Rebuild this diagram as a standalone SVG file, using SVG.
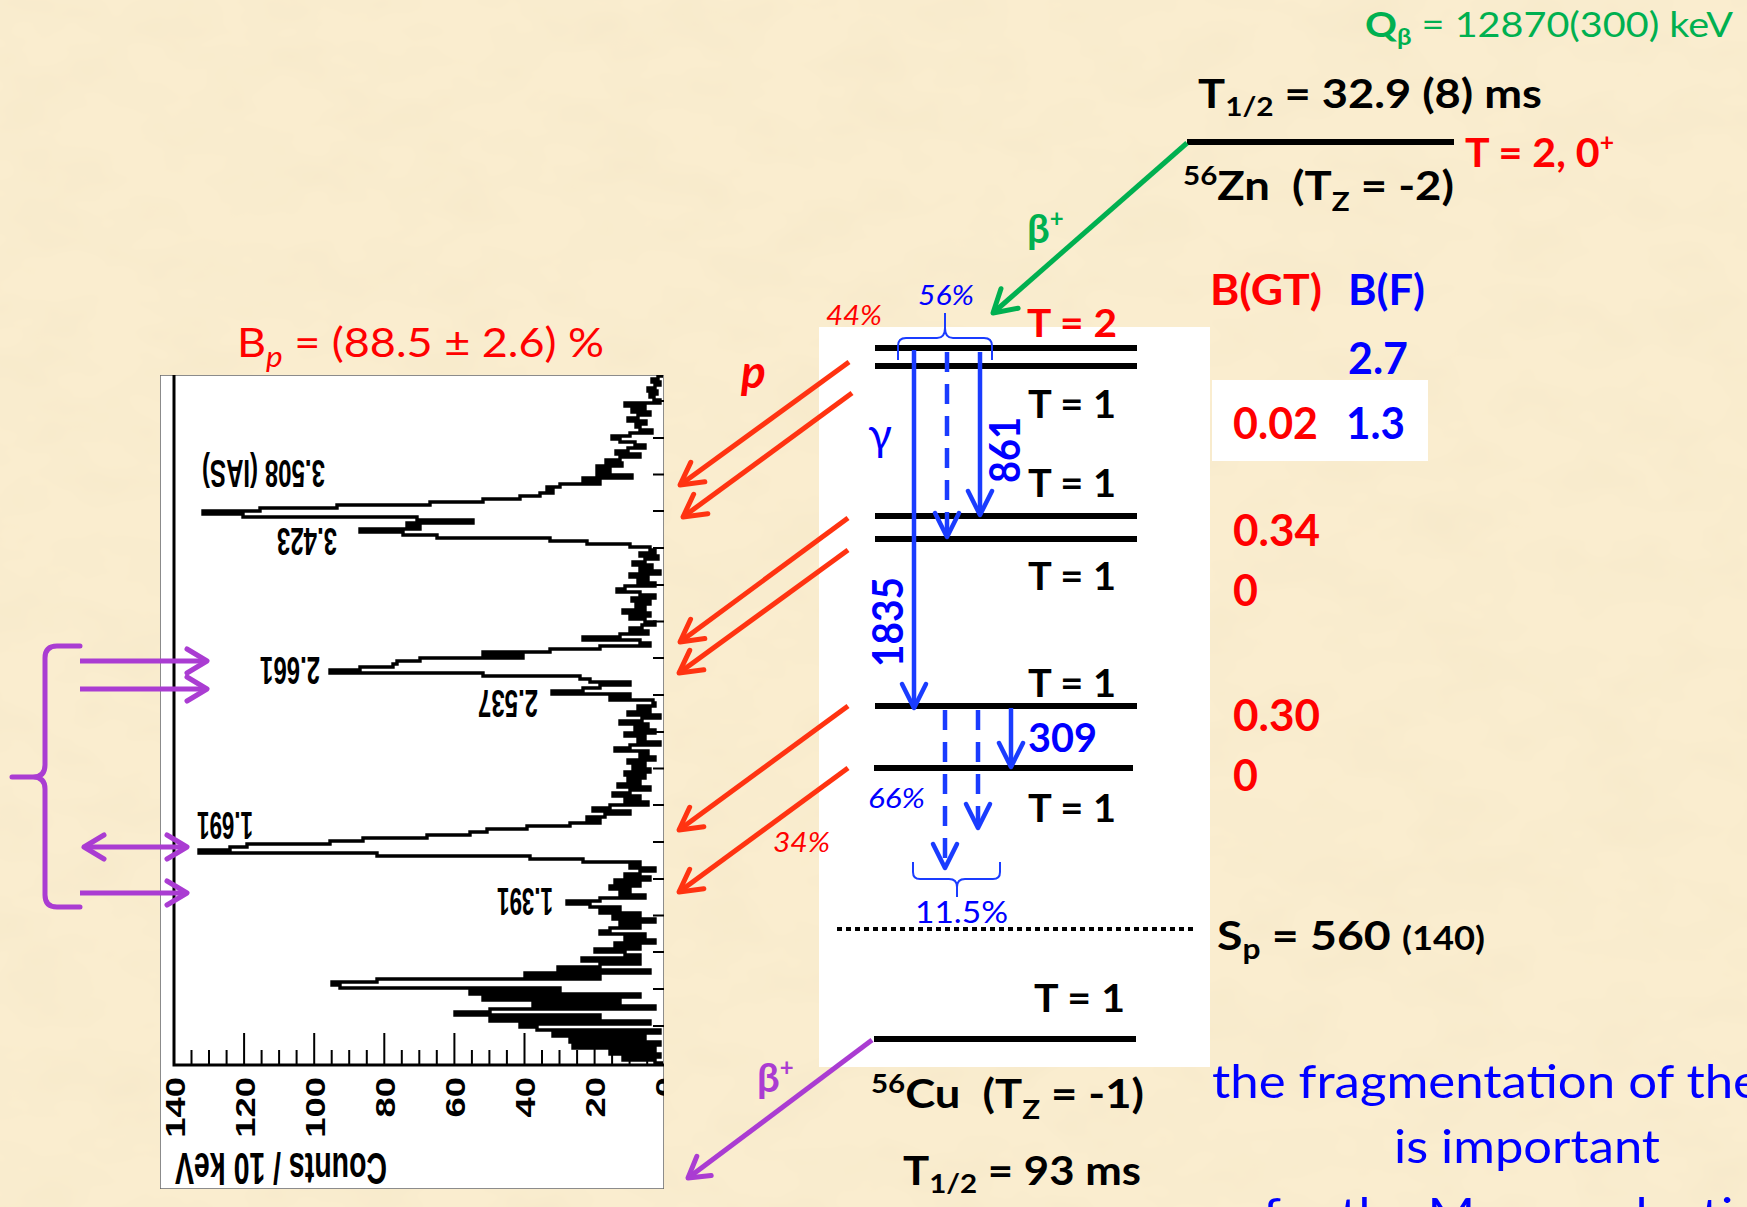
<svg xmlns="http://www.w3.org/2000/svg" width="1747" height="1207" viewBox="0 0 1747 1207">
<defs>
<style>
.b{font-family:Lato,"Open Sans","DejaVu Sans",sans-serif;font-weight:700}
.n{font-family:Lato,"Open Sans","DejaVu Sans",sans-serif;font-weight:400}
.it{font-style:italic}
.h{font-family:"Liberation Sans",Arial,sans-serif;font-weight:700}
.pre{white-space:pre}
.red{fill:#ff0000}.blue{fill:#0000ff}.blk{fill:#000}.grn{fill:#00b050}.pur{fill:#aa3cd2}
.lvl{stroke:#000;stroke-width:6;fill:none}
.ra{stroke:#ff3311;stroke-width:5;fill:none;marker-end:url(#mr)}
.ba{stroke:#1a3cff;stroke-width:4.5;fill:none;marker-end:url(#mb)}
.bd{stroke-dasharray:20 12}
.pa{stroke:#aa3cd2;stroke-width:5;fill:none;marker-end:url(#mp)}
</style>
<filter id="tx" x="0" y="0" width="100%" height="100%">
<feTurbulence type="fractalNoise" baseFrequency="0.012 0.02" numOctaves="3" seed="7"/>
<feColorMatrix type="matrix" values="0 0 0 0 0.85  0 0 0 0 0.74  0 0 0 0 0.52  0.45 0 0 0 -0.17"/>
</filter>
<marker id="mr" markerUnits="userSpaceOnUse" orient="auto" refX="0" refY="0" overflow="visible"><path d="M-22,-12 L0,0 L-22,12" fill="none" stroke="#ff3311" stroke-width="5" stroke-linecap="round" stroke-linejoin="round"/></marker>
<marker id="mb" markerUnits="userSpaceOnUse" orient="auto" refX="0" refY="0" overflow="visible"><path d="M-24,-12 L0,0 L-24,12" fill="none" stroke="#1a3cff" stroke-width="4.5" stroke-linecap="round" stroke-linejoin="round"/></marker>
<marker id="mg" markerUnits="userSpaceOnUse" orient="auto" refX="0" refY="0" overflow="visible"><path d="M-22,-13 L0,0 L-22,13" fill="none" stroke="#00b050" stroke-width="5" stroke-linecap="round" stroke-linejoin="round"/></marker>
<marker id="mp" markerUnits="userSpaceOnUse" orient="auto" refX="0" refY="0" overflow="visible"><path d="M-20,-12 L0,0 L-20,12" fill="none" stroke="#aa3cd2" stroke-width="5" stroke-linecap="round" stroke-linejoin="round"/></marker>
<marker id="mps" markerUnits="userSpaceOnUse" orient="auto-start-reverse" refX="0" refY="0" overflow="visible"><path d="M-20,-12 L0,0 L-20,12" fill="none" stroke="#aa3cd2" stroke-width="5" stroke-linecap="round" stroke-linejoin="round"/></marker>
<clipPath id="pc"><rect x="160" y="375" width="504" height="814"/></clipPath>
</defs>

<rect width="1747" height="1207" fill="#faedcf"/>
<rect width="1747" height="1207" filter="url(#tx)"/>

<!-- white panels -->
<rect id="scheme-box" x="819" y="327" width="391" height="740" fill="#fff"/>
<rect id="bgt-box" x="1212" y="380" width="216" height="81" fill="#fff"/>

<!-- spectrum plot -->
<g id="spectrum" clip-path="url(#pc)">
<rect x="160" y="375" width="504" height="814" fill="#fff" stroke="#666" stroke-width="1.5"/>
<path d="M174,375 V1065 H664" fill="none" stroke="#000" stroke-width="3"/>
<path d="M174,1065v-32M244.1,1065v-32M314.2,1065v-32M384.3,1065v-32M454.4,1065v-32M524.5,1065v-32M594.6,1065v-32M191.5,1065v-15M209,1065v-15M226.6,1065v-15M261.6,1065v-15M279.1,1065v-15M296.6,1065v-15M331.7,1065v-15M349.2,1065v-15M366.8,1065v-15M401.8,1065v-15M419.3,1065v-15M436.8,1065v-15M471.9,1065v-15M489.4,1065v-15M506.9,1065v-15M542,1065v-15M559.5,1065v-15M577.1,1065v-15M612.1,1065v-15M629.6,1065v-15M647.2,1065v-15" stroke="#000" stroke-width="2" fill="none"/>
<path d="M653,401h11M653,438h11M653,474.5h11M653,511h11M653,548h11M653,585h11M653,621.5h11M653,658h11M653,695h11M653,732h11M653,768.5h11M653,805h11M653,842h11M653,879h11M653,915.5h11M653,952h11M653,989h11M653,1026h11" stroke="#000" stroke-width="2"/>
<path d="M663,376H658v3H652v3H660v3H655v3H648v3H657v3H650v3H654v3H660v3H625v3H645v3H632v3H650v3H638v3H628v3H646v3H636v3H640v3H652v3H630v3H612v3H620v3H635v3H645v3H628v3H616v3H640v3H620v3H606v3H622v3H597v3H610v3H597v3H632v3H583v3H600v3H560v3H547v3H553v3H540v3H520v3H483v3H430v3H337v3H260v3H203v3H243v3H417v3H473v3H407v3H420v3H360v3H403v3H437v3H550v3H587v3H630v3H650v3H655v3H640v3H658v3H645v3H633v3H652v3H640v3H660v3H630v3H648v3H638v3H655v3H625v3H617v3H640v3H655v3H632v3H650v3H636v3H645v3H623v3H650v3H630v3H645v3H655v3H642v3H630v3H648v3H620v3H583v3H640v3H650v3H600v3H550v3H483v3H523v3H420v3H397v3H393v3H360v3H330v3H483v3H580v3H590v3H630v3H600v3H583v3H552v3H630v3H610v3H653v3H655v3H638v3H650v3H628v3H660v3H642v3H620v3H648v3H635v3H655v3H625v3H645v3H638v3H660v3H630v3H615v3H648v3H640v3H655v3H628v3H645v3H633v3H650v3H625v3H645v3H628v3H640v3H618v3H650v3H630v3H613v3H640v3H625v3H648v3H610v3H593v3H630v3H605v3H587v3H600v3H570v3H527v3H487v3H470v3H427v3H363v3H330v3H247v3H230v3H199v3H377v3H530v3H583v3H640v3H630v3H655v3H640v3H625v3H650v3H615v3H640v3H610v3H630v3H620v3H645v3H600v3H567v3H590v3H620v3H600v3H640v3H613v3H655v3H620v3H640v3H610v3H600v3H645v3H625v3H655v3H615v3H640v3H595v3H625v3H640v3H582v3H640v3H600v3H558v3H650v3H525v3H600v3H377v3H332v3H340v3H560v3H470v3H640v3H483v3H620v3H533v3H655v3H490v3H455v3H600v3H490v3H650v3H520v3H537v3H660v3H553v3H645v3H570v3H660v3H573v3H655v3H610v3H660v3H623v3H655v3H663" fill="none" stroke="#000" stroke-width="3.4"/>
<g class="h" font-size="28" text-anchor="end">
<text transform="translate(185,1077) rotate(-90) scale(1.3,1)">140</text>
<text transform="translate(255,1077) rotate(-90) scale(1.3,1)">120</text>
<text transform="translate(325,1077) rotate(-90) scale(1.3,1)">100</text>
<text transform="translate(395,1077) rotate(-90) scale(1.3,1)">80</text>
<text transform="translate(465,1077) rotate(-90) scale(1.3,1)">60</text>
<text transform="translate(535,1077) rotate(-90) scale(1.3,1)">40</text>
<text transform="translate(605,1077) rotate(-90) scale(1.3,1)">20</text>
<text transform="translate(675,1077) rotate(-90) scale(1.3,1)">0</text>
</g>
<text class="h" font-size="44" transform="translate(387,1153) rotate(180)" textLength="212" lengthAdjust="spacingAndGlyphs">Counts / 10 keV</text>
<g class="h" font-size="38">
<text transform="translate(325,460) rotate(180)" textLength="123" lengthAdjust="spacingAndGlyphs">3.508 (IAS)</text>
<text transform="translate(337,528) rotate(180)" textLength="60" lengthAdjust="spacingAndGlyphs">3.423</text>
<text transform="translate(320,657) rotate(180)" textLength="60" lengthAdjust="spacingAndGlyphs">2.661</text>
<text transform="translate(538,690) rotate(180)" textLength="60" lengthAdjust="spacingAndGlyphs">2.537</text>
<text transform="translate(253,812) rotate(180)" textLength="56" lengthAdjust="spacingAndGlyphs">1.691</text>
<text transform="translate(553,888) rotate(180)" textLength="56" lengthAdjust="spacingAndGlyphs">1.391</text>
</g>
</g>

<!-- top labels -->
<g id="q-value"><text class="n grn" x="1365" y="37" font-size="34" textLength="368" lengthAdjust="spacingAndGlyphs"><tspan font-weight="700">Q</tspan><tspan font-weight="700" font-size="22" dy="8">β</tspan><tspan dy="-8"> = 12870(300) keV</tspan></text></g>

<g id="zn56">
<text class="b blk" x="1198" y="108" font-size="41" textLength="344" lengthAdjust="spacingAndGlyphs">T<tspan font-size="27" dy="8">1/2</tspan><tspan dy="-8"> = 32.9 (8) ms</tspan></text>
<line class="lvl" x1="1187" y1="142" x2="1454" y2="142"/>
<text class="b red" x="1465" y="167" font-size="40" textLength="149" lengthAdjust="spacingAndGlyphs">T = 2, 0<tspan font-size="24" dy="-16">+</tspan></text>
<text class="b blk pre" x="1183" y="200" font-size="40" textLength="271" lengthAdjust="spacingAndGlyphs"><tspan font-size="26" dy="-15">56</tspan><tspan dy="15">Zn  (T</tspan><tspan font-size="26" dy="11">Z</tspan><tspan dy="-11"> = -2)</tspan></text>
</g>

<g id="bvalues">
<text class="b red" x="1210" y="305" font-size="42" textLength="112" lengthAdjust="spacingAndGlyphs">B(GT)</text>
<text class="b blue" x="1348" y="305" font-size="42" textLength="77" lengthAdjust="spacingAndGlyphs">B(F)</text>
<text class="b blue" x="1348" y="374" font-size="43" textLength="60" lengthAdjust="spacingAndGlyphs">2.7</text>
<text class="b red" x="1233" y="439" font-size="43" textLength="85" lengthAdjust="spacingAndGlyphs">0.02</text>
<text class="b blue" x="1346" y="439" font-size="43" textLength="59" lengthAdjust="spacingAndGlyphs">1.3</text>
<text class="b red" x="1233" y="546" font-size="43" textLength="87" lengthAdjust="spacingAndGlyphs">0.34</text>
<text class="b red" x="1233" y="606" font-size="43">0</text>
<text class="b red" x="1233" y="731" font-size="43" textLength="87" lengthAdjust="spacingAndGlyphs">0.30</text>
<text class="b red" x="1233" y="791" font-size="43">0</text>
</g>

<!-- level scheme of 56Cu -->
<g id="cu56-levels">
<line class="lvl" x1="875" y1="348" x2="1137" y2="348"/>
<line class="lvl" x1="875" y1="366" x2="1137" y2="366"/>
<line class="lvl" x1="875" y1="516" x2="1137" y2="516"/>
<line class="lvl" x1="875" y1="539" x2="1137" y2="539"/>
<line class="lvl" x1="875" y1="706" x2="1137" y2="706"/>
<line class="lvl" x1="874" y1="768" x2="1133" y2="768"/>
<line class="lvl" x1="874" y1="1039" x2="1136" y2="1039"/>
<line x1="837" y1="929" x2="1197" y2="929" stroke="#000" stroke-width="4" stroke-dasharray="5 4"/>
<text class="b red" x="1027" y="337" font-size="39" textLength="90" lengthAdjust="spacingAndGlyphs">T = 2</text>
<text class="b blk" x="1028" y="418" font-size="39" textLength="88" lengthAdjust="spacingAndGlyphs">T = 1</text>
<text class="b blk" x="1028" y="497" font-size="39" textLength="88" lengthAdjust="spacingAndGlyphs">T = 1</text>
<text class="b blk" x="1028" y="590" font-size="39" textLength="88" lengthAdjust="spacingAndGlyphs">T = 1</text>
<text class="b blk" x="1028" y="697" font-size="39" textLength="88" lengthAdjust="spacingAndGlyphs">T = 1</text>
<text class="b blk" x="1028" y="822" font-size="39" textLength="88" lengthAdjust="spacingAndGlyphs">T = 1</text>
<text class="b blk" x="1034" y="1012" font-size="39" textLength="91" lengthAdjust="spacingAndGlyphs">T = 1</text>
<text class="b blk pre" x="1217" y="950" font-size="41" textLength="268" lengthAdjust="spacingAndGlyphs">S<tspan font-size="28" dy="9">p</tspan><tspan dy="-9"> = 560 </tspan><tspan font-size="32">(140)</tspan></text>
<text class="b blk pre" x="871" y="1108" font-size="40" textLength="273" lengthAdjust="spacingAndGlyphs"><tspan font-size="26" dy="-15">56</tspan><tspan dy="15">Cu  (T</tspan><tspan font-size="26" dy="11">Z</tspan><tspan dy="-11"> = -1)</tspan></text>
<text class="b blk" x="903" y="1185" font-size="40" textLength="238" lengthAdjust="spacingAndGlyphs">T<tspan font-size="27" dy="8">1/2</tspan><tspan dy="-8"> = 93 ms</tspan></text>
</g>

<!-- connectors -->
<g id="connectors">
<line x1="1187" y1="143" x2="993" y2="313" stroke="#00b050" stroke-width="5" marker-end="url(#mg)"/>
<line class="ra" x1="849" y1="362" x2="680" y2="485"/>
<line class="ra" x1="852" y1="393" x2="683" y2="517"/>
<line class="ra" x1="848" y1="518" x2="680" y2="642"/>
<line class="ra" x1="848" y1="550" x2="679" y2="673"/>
<line class="ra" x1="848" y1="706" x2="679" y2="830"/>
<line class="ra" x1="848" y1="768" x2="679" y2="892"/>
<line class="ba" x1="914" y1="350" x2="914" y2="708"/>
<line class="ba bd" x1="947" y1="352" x2="947" y2="537"/>
<line class="ba" x1="980" y1="352" x2="980" y2="515"/>
<line class="ba bd" x1="945" y1="710" x2="945" y2="868"/>
<line class="ba bd" x1="978" y1="710" x2="978" y2="828"/>
<line class="ba" x1="1011" y1="708" x2="1011" y2="767"/>
<line class="pa" x1="80" y1="661" x2="207" y2="661"/>
<line class="pa" x1="80" y1="689" x2="207" y2="689"/>
<line class="pa" x1="84" y1="847" x2="187" y2="847" marker-start="url(#mps)"/>
<line class="pa" x1="80" y1="893" x2="187" y2="893"/>
<line class="pa" x1="872" y1="1040" x2="688" y2="1178"/>
<path d="M898,360V346Q898,338 906,338H937Q945,338 945,328V313M945,328Q945,338 953,338H984Q992,338 992,346V360" fill="none" stroke="#1a3cff" stroke-width="2"/>
<path d="M913,862V872Q913,879 920,879H949Q957,879 957,887V897M957,887Q957,879 965,879H993Q1000,879 1000,872V862" fill="none" stroke="#1a3cff" stroke-width="2"/>
<path d="M80,646H57Q45,646 45,658V765Q45,777 33,777H12M33,777Q45,777 45,789V895Q45,907 57,907H80" fill="none" stroke="#aa3cd2" stroke-width="5" stroke-linecap="round"/>
</g>

<!-- connector labels -->
<g id="labels">
<text class="b grn" x="1027" y="243" font-size="40">β<tspan font-size="24" dy="-16">+</tspan></text>
<text class="b pur" x="757" y="1092" font-size="40">β<tspan font-size="24" dy="-16">+</tspan></text>
<text class="b it red" x="741" y="388" font-size="46">p</text>
<text class="n red" x="237" y="357" font-size="40" textLength="367" lengthAdjust="spacingAndGlyphs">B<tspan class="it" font-size="28" dy="10">p</tspan><tspan dy="-10"> = (88.5 ± 2.6) %</tspan></text>
<text class="n it blue" x="918" y="305" font-size="27" textLength="56" lengthAdjust="spacingAndGlyphs">56%</text>
<text class="n it red" x="826" y="325" font-size="27" textLength="56" lengthAdjust="spacingAndGlyphs">44%</text>
<text class="n it blue" x="868" y="808" font-size="27" textLength="57" lengthAdjust="spacingAndGlyphs">66%</text>
<text class="n it red" x="773" y="852" font-size="27" textLength="57" lengthAdjust="spacingAndGlyphs">34%</text>
<text class="n blue" x="915" y="923" font-size="31" textLength="93" lengthAdjust="spacingAndGlyphs">11.5%</text>
<text class="n blue" x="868" y="450" font-size="44">γ</text>
<text class="b blue" font-size="42" transform="translate(1020,483) rotate(-90)" textLength="66" lengthAdjust="spacingAndGlyphs">861</text>
<text class="b blue" font-size="42" transform="translate(903,667) rotate(-90)" textLength="90" lengthAdjust="spacingAndGlyphs">1835</text>
<text class="b blue" x="1028" y="752" font-size="40" textLength="69" lengthAdjust="spacingAndGlyphs">309</text>
</g>

<g id="note">
<text class="n blue" x="1212" y="1098" font-size="47" textLength="548" lengthAdjust="spacingAndGlyphs">the fragmentation of the</text>
<text class="n blue" x="1394" y="1163" font-size="47" textLength="266" lengthAdjust="spacingAndGlyphs">is important</text>
<text class="n blue" x="1263" y="1231" font-size="47" textLength="528" lengthAdjust="spacingAndGlyphs">for the Mass evaluation</text>
</g>
</svg>
